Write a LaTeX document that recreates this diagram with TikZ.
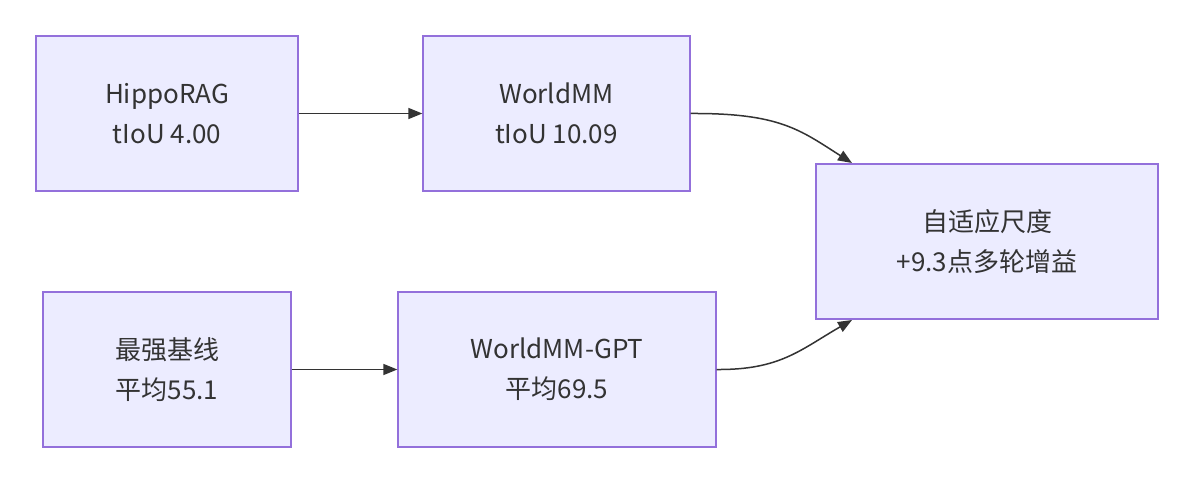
\documentclass[tikz,border=0pt]{standalone}
\usepackage{fontspec}
\setmainfont{Noto Sans CJK SC}
\usetikzlibrary{arrows.meta}
\definecolor{bx}{HTML}{ECECFF}
\definecolor{bd}{HTML}{9370DB}
\definecolor{tx}{HTML}{333333}
\begin{document}
\begin{tikzpicture}[x=1pt,y=-1pt,
 box/.style={draw=bd,fill=bx,line width=1.3pt,text=tx,align=center,font=\fontsize{26}{40}\selectfont,inner sep=0pt},
 ar/.style={draw=tx,line width=1.5pt,-{Triangle[length=14pt,width=11pt]}}]
\useasboundingbox[fill=white] (0,0) rectangle (1196,484);
\node[box,minimum width=262pt,minimum height=155pt] (a) at (167,113.5) {HippoRAG\\tIoU 4.00};
\node[box,minimum width=267pt,minimum height=155pt] (b) at (556.5,113.5) {WorldMM\\tIoU 10.09};
\node[box,minimum width=342pt,minimum height=155pt] (c) at (987,241.5) {自适应尺度\\+9.3点多轮增益};
\node[box,minimum width=248pt,minimum height=155pt] (d) at (167,369.5) {最强基线\\平均55.1};
\node[box,minimum width=318pt,minimum height=155pt] (e) at (557,369.5) {WorldMM-GPT\\平均69.5};
\coordinate (ct) at (852,163);
\coordinate (cb) at (852,320);
\draw[ar] (a.east) -- (b.west);
\draw[ar] (d.east) -- (e.west);
\draw[ar] (b.east) .. controls (780,113) and (800,130) .. (ct);
\draw[ar] (e.east) .. controls (780,370) and (800,350) .. (cb);
\end{tikzpicture}
\end{document}
